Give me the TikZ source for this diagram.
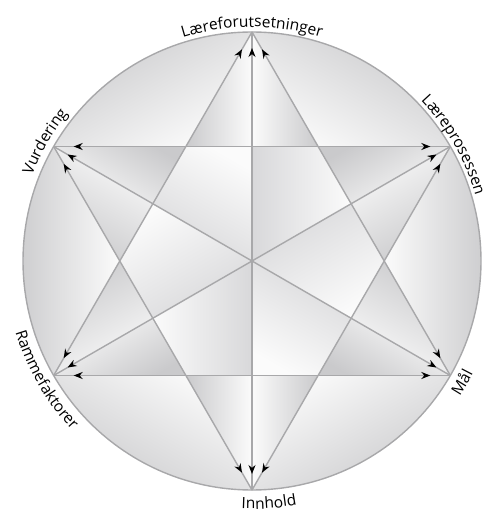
\documentclass[tikz,border=0pt]{standalone}
\usepackage{fontspec}
\setmainfont{Open Sans}
\usetikzlibrary{arrows.meta,decorations.markings,decorations.text}
\definecolor{linecolor}{RGB}{168,168,170}
\definecolor{rimcolor}{RGB}{202,202,204}
\definecolor{midshade}{RGB}{216,216,218}
\definecolor{paleshade}{RGB}{251,251,251}

\begin{document}
\begin{tikzpicture}[x=1pt,y=1pt,
    link/.style={linecolor, line width=1.4pt, postaction={decorate},
      decoration={markings,
        mark=at position #1 with {\arrowreversed{Stealth[length=9pt,width=7pt,color=black]}},
        mark=at position -#1 with {\arrow{Stealth[length=9pt,width=7pt,color=black]}}}},
    facet/.style={top color=rimcolor, bottom color=paleshade, shading angle=#1},
    inner facet/.style={top color=midshade, bottom color=paleshade, shading angle=#1},
    label text/.style={decoration={text along path, text align=center,
        text={|\fontsize{15.5}{18}\selectfont|#1}}, decorate}]
    \useasboundingbox (-252,-252) rectangle (237,261);
    % facets of the disc, one sector of 60 degrees at a time
    \foreach \a in {0,60,...,300} {
      \shade[facet=\a+30] ({\a+90}:229) arc[start angle=\a+90, end angle=\a+150, radius=229]
        -- ({\a+120}:132.2) -- cycle;
      \shade[facet=\a+90] ({\a+90}:229) -- ({\a+90}:114.5) -- ({\a+120}:132.2) -- cycle;
      \shade[facet=\a-30] ({\a+150}:229) -- ({\a+150}:114.5) -- ({\a+120}:132.2) -- cycle;
      \shade[inner facet=\a+150] (0,0) -- ({\a+90}:114.5) -- ({\a+120}:132.2) -- ({\a+150}:114.5) -- cycle;
    }
    \draw[linecolor, line width=1.4pt] (0,0) circle[radius=229];
    % corners
    \coordinate (forutsetn) at (90:229);
    \coordinate (prosess) at (30:229);
    \coordinate (maal) at (-30:229);
    \coordinate (innhold) at (-90:229);
    \coordinate (ramme) at (-150:229);
    \coordinate (vurdering) at (150:229);
    % first triangle
    \draw[link=20pt] (forutsetn) -- (ramme);
    \draw[link=20pt] (ramme) -- (maal);
    \draw[link=20pt] (maal) -- (forutsetn);
    % second triangle
    \draw[link=20pt] (innhold) -- (vurdering);
    \draw[link=20pt] (vurdering) -- (prosess);
    \draw[link=20pt] (prosess) -- (innhold);
    % diameters
    \draw[link=16pt] (forutsetn) -- (innhold);
    \draw[link=16pt] (vurdering) -- (maal);
    \draw[link=16pt] (prosess) -- (ramme);
    % labels round the rim
    \path[label text=Læreforutsetninger] (125:234) arc[start angle=125, end angle=55, radius=234];
    \path[label text=Vurdering] (185:236) arc[start angle=185, end angle=115, radius=236];
    \path[label text=Læreprosessen] (65:233) arc[start angle=65, end angle=-5, radius=233];
    \path[label text=Mål] (-65:248) arc[start angle=-65, end angle=5, radius=248];
    \path[label text=Innhold] (-121:248) arc[start angle=-121, end angle=-51, radius=248];
    \path[label text=Rammefaktorer] (-185:247) arc[start angle=-185, end angle=-115, radius=247];
\end{tikzpicture}
\end{document}
